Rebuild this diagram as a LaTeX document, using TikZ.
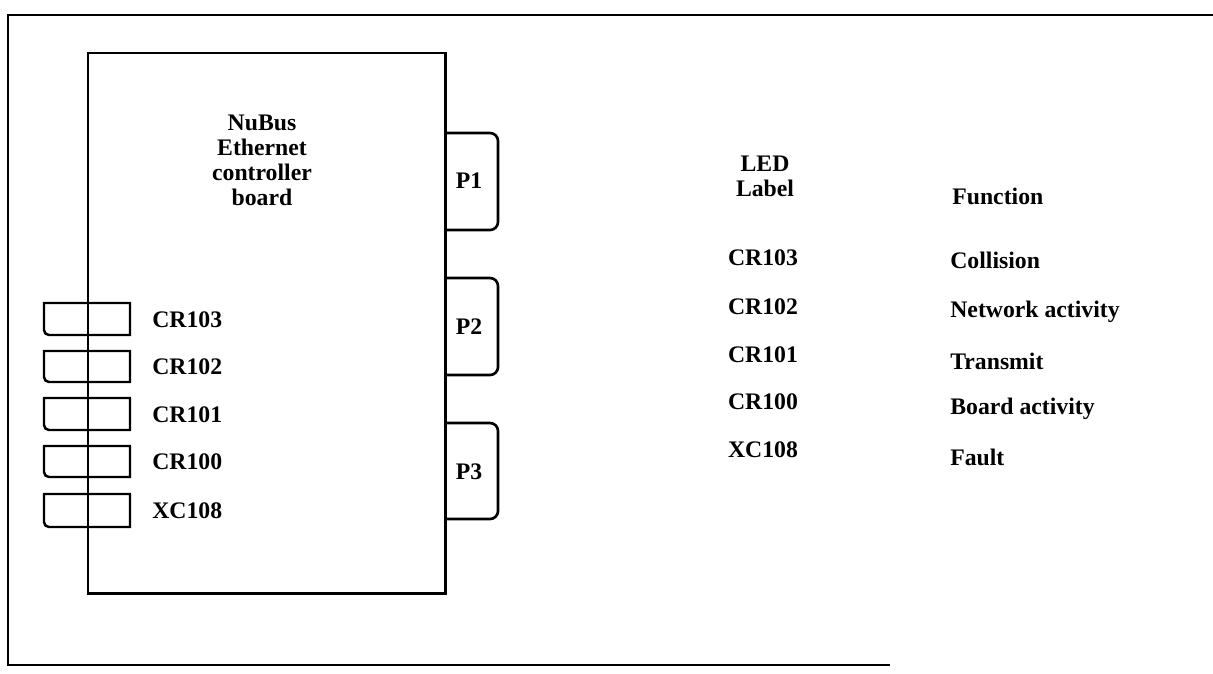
\documentclass[tikz,border=0pt]{standalone}
\usepackage{fontspec}
\setmainfont{Liberation Serif}
\usetikzlibrary{positioning}
\tikzset{
  frameline/.style={line width=1.1pt},
  boardline/.style={line width=1.7pt},
  tabline/.style={line width=1.5pt},
  ledline/.style={line width=1.4pt},
  lbl/.style={inner sep=0pt, font=\fontsize{13.5}{14.2}\selectfont\bfseries},
  ledlbl/.style={lbl, anchor=west},
  fnlbl/.style={lbl, anchor=west},
  collbl/.style={lbl, align=center},
}

\begin{document}
\begin{tikzpicture}[x=0.02cm, y=-0.02cm]
  \useasboundingbox (0,0) rectangle (1213,673);

  % outer frame (open on the right)
  \draw[frameline] (1213,15) -- (8,15) -- (8,665) -- (890,665);

  % board
  \draw[boardline] (88,53) rectangle (445,593);
  \node[collbl] (board) at (262,160)
    {NuBus\\Ethernet\\controller\\board};

  % connector tabs
  \draw[tabline] (445,133) [rounded corners=0.16cm] -- (498,133) -- (498,230)
    -- (445,230);
  \draw[tabline] (445,278) [rounded corners=0.16cm] -- (498,278) -- (498,375)
    -- (445,375);
  \draw[tabline] (445,423) [rounded corners=0.16cm] -- (498,423) -- (498,519)
    -- (445,519);
  \node[lbl] (p1) at (469,181) {P1};
  \node[lbl] (p2) at (469,327) {P2};
  \node[lbl] (p3) at (469,472) {P3};

  % LEDs on the front edge
  \draw[ledline] (130,303) -- (44,303) [rounded corners=0.1cm] -- (44,335)
    [sharp corners] -- (130,335) -- cycle;
  \draw[ledline] (130,351) -- (44,351) [rounded corners=0.1cm] -- (44,382)
    [sharp corners] -- (130,382) -- cycle;
  \draw[ledline] (130,398) -- (44,398) [rounded corners=0.1cm] -- (44,430)
    [sharp corners] -- (130,430) -- cycle;
  \draw[ledline] (130,446) -- (44,446) [rounded corners=0.1cm] -- (44,477)
    [sharp corners] -- (130,477) -- cycle;
  \draw[ledline] (130,494) -- (44,494) [rounded corners=0.1cm] -- (44,527)
    [sharp corners] -- (130,527) -- cycle;
  \draw[boardline] (88,290) -- (88,540);

  \node[ledlbl] (l103) at (152,320) {CR103};
  \node[ledlbl] (l102) at (152,367) {CR102};
  \node[ledlbl] (l101) at (152,415) {CR101};
  \node[ledlbl] (l100) at (152,462) {CR100};
  \node[ledlbl] (l108) at (152,511) {XC108};

  % LED table
  \node[collbl] (hled) at (765,176) {LED\\Label};
  \node[fnlbl] (hfn) at (952,196) {Function};

  \node[collbl] (t103) at (763,258) {CR103};
  \node[collbl] (t102) at (763,307) {CR102};
  \node[collbl] (t101) at (763,355) {CR101};
  \node[collbl] (t100) at (763,402) {CR100};
  \node[collbl] (t108) at (763,450) {XC108};

  \node[fnlbl] (f103) at (950,260) {Collision};
  \node[fnlbl] (f102) at (950,312) {Network activity};
  \node[fnlbl] (f101) at (950,361) {Transmit};
  \node[fnlbl] (f100) at (950,409) {Board activity};
  \node[fnlbl] (f108) at (950,457) {Fault};
\end{tikzpicture}
\end{document}
